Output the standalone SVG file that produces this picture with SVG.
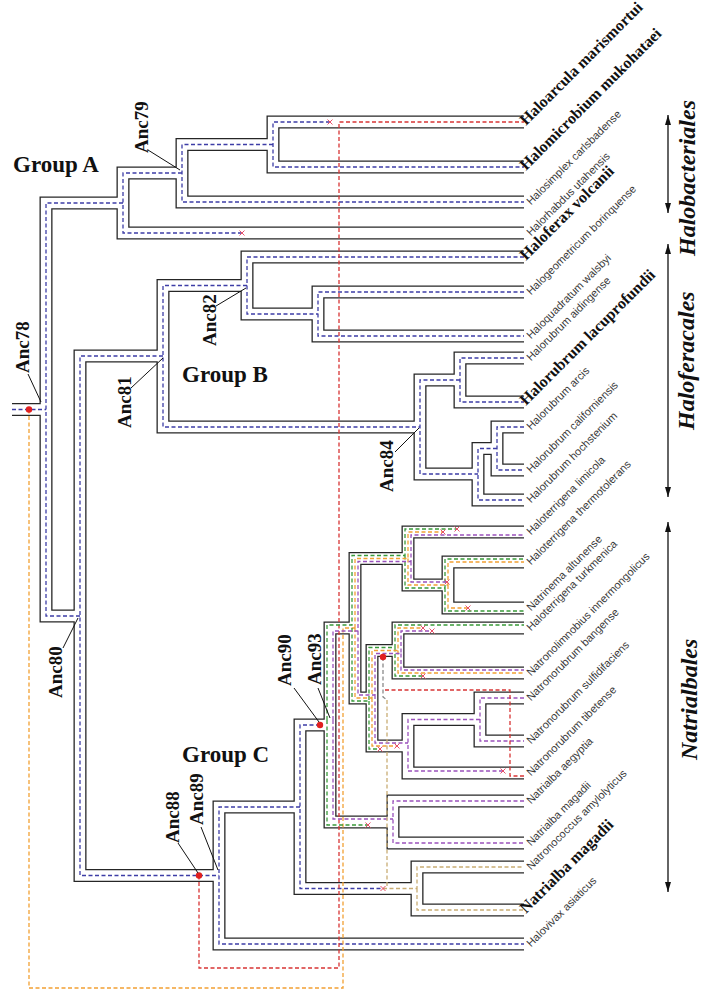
<svg xmlns="http://www.w3.org/2000/svg" width="711" height="999" viewBox="0 0 711 999">
<defs>
<style>
.wall{fill:none;stroke:#262626;stroke-width:13;stroke-linejoin:miter}
.hole{fill:none;stroke:#ffffff;stroke-width:10.4;stroke-linejoin:miter}
.d{fill:none;stroke-width:1.3;stroke-dasharray:4 2.5}
.bl{stroke:#3d3da6}
.rd{stroke:#d83434}
.gr{stroke:#3a9a3a}
.or{stroke:#f2a033}
.pu{stroke:#9a52bc}
.tn{stroke:#c9ad74}
.gy{stroke:#8a8a8a}
.lf{font-family:"Liberation Sans",Arial,sans-serif;font-size:11px;fill:#3a3a3a}
.lb{font-family:"Liberation Serif","Times New Roman",serif;font-size:16px;font-weight:bold;fill:#111}
.anc{font-family:"Liberation Serif","Times New Roman",serif;font-size:19px;font-weight:bold;fill:#111}
.grp{font-family:"Liberation Serif","Times New Roman",serif;font-size:23px;font-weight:bold;fill:#111}
.ord{font-family:"Liberation Serif","Times New Roman",serif;font-size:24px;font-weight:bold;font-style:italic;fill:#111}
.ptr{stroke:#111;stroke-width:1;fill:none}
.xm{stroke:#e8506a;stroke-width:1;fill:none}
.arr{stroke:#111;stroke-width:1.3;fill:none;marker-start:url(#ah);marker-end:url(#ah)}
.dot{fill:#e02020}
</style>
<marker id="ah" viewBox="0 0 10 6" refX="10" refY="3" markerWidth="10" markerHeight="6" orient="auto-start-reverse" markerUnits="userSpaceOnUse">
<path d="M0 0L10 3L0 6z" fill="#111"/>
</marker>
<path id="x" class="xm" d="M-2.5 -2.5l5 5m0 -5l-5 5"/>
</defs>
<rect width="711" height="999" fill="#ffffff"/>

<g id="connectors">
<path class="wall" d="M12 409.5H46M123 203H46V616H80M182 173H123V233H524M273 144.5H182V202H524M524 122H273V167H524M163 356H80V875.5H219M247 285.5H163V427H420M524 257H247V314H318M524 292H318V336H524M460 380H420V474H478M524 358H460V402H524M497 448.5H478V500H524M524 427H497V470H524M300 807H219V944H524M330 725H300V888.5H417M524 867H417V910H524M355 628H330V822H393M524 801H393V843H524M408 558.5H355V698H372M524 532H408V585H448M524 562H448V608H524M398 650.5H372V746H408M524 628H398V673H524M480 719.5H408V773H524M524 698H480V741H524"/>
<path class="hole" d="M12 409.5H46M123 203H46V616H80M182 173H123V233H524M273 144.5H182V202H524M524 122H273V167H524M163 356H80V875.5H219M247 285.5H163V427H420M524 257H247V314H318M524 292H318V336H524M460 380H420V474H478M524 358H460V402H524M497 448.5H478V500H524M524 427H497V470H524M300 807H219V944H524M330 725H300V888.5H417M524 867H417V910H524M355 628H330V822H393M524 801H393V843H524M408 558.5H355V698H372M524 532H408V585H448M524 562H448V608H524M398 650.5H372V746H408M524 628H398V673H524M480 719.5H408V773H524M524 698H480V741H524"/>

<path class="d bl" d="M12 409.5H46M123 203H46V616H80M182 173H123V233H242M273 144.5H182V202H524M330 122H273V167H524M163 356H80V875.5H219M247 285.5H163V427H420M524 257H247V314H318M524 292H318V336H524M460 380H420V474H478M524 358H460V402H524M497 448.5H478V500H524M524 427H497V470H524M300 807H219V944H524M320 725H300V888.5H383"/>

<path class="d or" d="M29 409.5V988H343V628H355"/>
<path class="d rd" d="M199 875.5V968H339V122H524"/>

<path class="d gr" d="M327 720V625H352V555.5H405V529H457M405 555.5V588H445V559H524M445 588V611H524M352 628V701H369V647.5H395V625H524M395 647.5V676H423M369 701V749H380M327 720V825H368"/>
<path class="d or" d="M355 628V558.5H408V532H443M408 558.5V585H448V562H524M448 585V608H468M355 628V698H372V650.5H398V628H423M398 650.5V673H524M372 698V746H397"/>
<path class="d pu" d="M333 720V631H358V561.5H411V535H524M411 561.5V582H447M358 631V695H375V653.5H401V631H432M401 653.5V670H524M375 695V743H408M480 719.5H408V771H503M524 698H480V741H524M333 720V819H393M524 801H393V843H524"/>
<path class="d gy" d="M383 657V697L387 700"/>
<path class="d tn" d="M387 700V888.5M383 888.5H417V867H524M417 888.5V910H524"/>
<path class="d rd" d="M385 690H510V776H524"/>

<use href="#x" x="330" y="122"/>
<use href="#x" x="242" y="233"/>
<use href="#x" x="457" y="529"/>
<use href="#x" x="443" y="532"/>
<use href="#x" x="447" y="582"/>
<use href="#x" x="468" y="608"/>
<use href="#x" x="423" y="628"/>
<use href="#x" x="432" y="631"/>
<use href="#x" x="423" y="676"/>
<use href="#x" x="380" y="749"/>
<use href="#x" x="397" y="746"/>
<use href="#x" x="368" y="825"/>
<use href="#x" x="503" y="771"/>
<use href="#x" x="383" y="888.5"/>

<circle class="dot" cx="29" cy="409.5" r="3.2"/>
<circle class="dot" cx="199" cy="875.5" r="3.2"/>
<circle class="dot" cx="320" cy="725" r="3.2"/>
<circle class="dot" cx="383" cy="657" r="3.2"/>

<path class="ptr" d="M28 374L41 402M63 648L78 618M148 150L180 170M131 388L163 358M216 306L246 288M395 452L419 428M178 843L198 873M201 827L218 870M294 688L319 722M318 688L330 718"/>
</g>

<g id="ancestors">
<text class="anc" transform="translate(29 373) rotate(-90)">Anc78</text>
<text class="anc" transform="translate(62 698) rotate(-90)">Anc80</text>
<text class="anc" transform="translate(148 153) rotate(-90)">Anc79</text>
<text class="anc" transform="translate(131 428) rotate(-90)">Anc81</text>
<text class="anc" transform="translate(216 346) rotate(-90)">Anc82</text>
<text class="anc" transform="translate(393 492) rotate(-90)">Anc84</text>
<text class="anc" transform="translate(179 843) rotate(-90)">Anc88</text>
<text class="anc" transform="translate(203 825) rotate(-90)">Anc89</text>
<text class="anc" transform="translate(291 686) rotate(-90)">Anc90</text>
<text class="anc" transform="translate(321 685) rotate(-90)">Anc93</text>
</g>

<g id="groups">
<text class="grp" x="13" y="172">Group A</text>
<text class="grp" x="182" y="382">Group B</text>
<text class="grp" x="182" y="762">Group C</text>
</g>

<g id="leaves">
<g id="leaf1"><text class="lb" transform="translate(526 126) rotate(-45)">Haloarcula marismortui</text></g>
<g id="leaf2"><text class="lb" transform="translate(526 171) rotate(-45)">Halomicrobium mukohataei</text></g>
<g id="leaf3"><text class="lf" transform="translate(531 205.5) rotate(-45)">Halosimplex carlsbadense</text></g>
<g id="leaf4"><text class="lf" transform="translate(531 236.5) rotate(-45)">Halorhabdus utahensis</text></g>
<g id="leaf5"><text class="lb" transform="translate(526 261) rotate(-45)">Haloferax volcanii</text></g>
<g id="leaf6"><text class="lf" transform="translate(531 295.5) rotate(-45)">Halogeometricum borinquense</text></g>
<g id="leaf7"><text class="lf" transform="translate(531 339.5) rotate(-45)">Haloquadratum walsbyi</text></g>
<g id="leaf8"><text class="lf" transform="translate(531 361.5) rotate(-45)">Halorubrum aidingense</text></g>
<g id="leaf9"><text class="lb" transform="translate(526 406) rotate(-45)">Halorubrum lacuprofundii</text></g>
<g id="leaf10"><text class="lf" transform="translate(531 430.5) rotate(-45)">Halorubrum arcis</text></g>
<g id="leaf11"><text class="lf" transform="translate(531 473.5) rotate(-45)">Halorubrum californiensis</text></g>
<g id="leaf12"><text class="lf" transform="translate(531 503.5) rotate(-45)">Halorubrum hochstenium</text></g>
<g id="leaf13"><text class="lf" transform="translate(531 535.5) rotate(-45)">Haloterrigena limicola</text></g>
<g id="leaf14"><text class="lf" transform="translate(531 565.5) rotate(-45)">Haloterrigena thermotolerans</text></g>
<g id="leaf15"><text class="lf" transform="translate(531 611.5) rotate(-45)">Natrinema altunense</text></g>
<g id="leaf16"><text class="lf" transform="translate(531 631.5) rotate(-45)">Haloterrigena turkmenica</text></g>
<g id="leaf17"><text class="lf" transform="translate(531 676.5) rotate(-45)">Natronolimnobius innermongolicus</text></g>
<g id="leaf18"><text class="lf" transform="translate(531 701.5) rotate(-45)">Natronorubrum bangense</text></g>
<g id="leaf19"><text class="lf" transform="translate(531 744.5) rotate(-45)">Natronorubrum sulfidifaciens</text></g>
<g id="leaf20"><text class="lf" transform="translate(531 776.5) rotate(-45)">Natronorubrum tibetense</text></g>
<g id="leaf21"><text class="lf" transform="translate(531 804.5) rotate(-45)">Natrialba aegyptia</text></g>
<g id="leaf22"><text class="lf" transform="translate(531 846.5) rotate(-45)">Natrialba magadii</text></g>
<g id="leaf23"><text class="lf" transform="translate(531 870.5) rotate(-45)">Natronococcus amylolyticus</text></g>
<g id="leaf24"><text class="lb" transform="translate(526 914) rotate(-45)">Natrialba magadii</text></g>
<g id="leaf25"><text class="lf" transform="translate(531 947.5) rotate(-45)">Halovivax asiaticus</text></g>
</g>

<g id="orders">
<path class="arr" d="M668 115V213"/>
<path class="arr" d="M668 244V497"/>
<path class="arr" d="M668 522V892"/>
<text class="ord" transform="translate(695 256) rotate(-90)">Halobacteriales</text>
<text class="ord" transform="translate(694 430) rotate(-90)">Haloferacales</text>
<text class="ord" transform="translate(697 760) rotate(-90)">Natrialbales</text>
</g>
</svg>
